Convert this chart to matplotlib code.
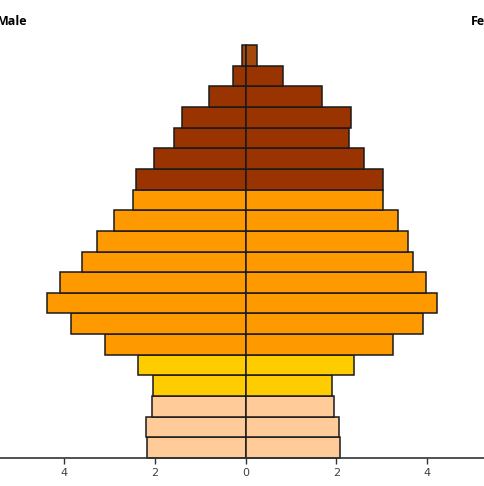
import matplotlib
matplotlib.use("Agg")
import matplotlib.pyplot as plt

age_groups = ["0-4", "5-9", "10-14", "15-19", "20-24", "25-29", "30-34", "35-39",
              "40-44", "45-49", "50-54", "55-59", "60-64", "65-69", "70-74", "75-79",
              "80-84", "85-89", "90-94", "95+"]
male = [2.18, 2.20, 2.07, 2.05, 2.38, 3.10, 3.86, 4.39, 4.10, 3.60, 3.27, 2.91,
        2.49, 2.42, 2.02, 1.58, 1.41, 0.82, 0.29, 0.08]
female = [2.08, 2.05, 1.94, 1.91, 2.38, 3.26, 3.92, 4.22, 3.98, 3.69, 3.59, 3.36,
          3.03, 3.03, 2.60, 2.28, 2.33, 1.68, 0.82, 0.24]
colors = (["#FFCC99"] * 3 + ["#FFCC00"] * 2 + ["#FF9900"] * 8 +
          ["#993300"] * 6 + ["#A3490C"])
tick_values = [-4, -2, 0, 2, 4]
tick_labels = ["4", "2", "0", "2", "4"]

fig = plt.figure(figsize=(4.85, 4.86), dpi=100)
ax = fig.add_axes([0, 0.0576, 1, 0.8498])

y = list(range(len(age_groups)))
ax.barh(y, [-m for m in male], height=1.0, color=colors, edgecolor="#1a1a1a",
        linewidth=1.1, clip_on=False)
ax.barh(y, female, height=1.0, color=colors, edgecolor="#1a1a1a",
        linewidth=1.1, clip_on=False)

ax.set_xlim(-5.42, 5.28)
ax.set_ylim(-0.5, 19.5)
for s in ["top", "left", "right"]:
    ax.spines[s].set_visible(False)
ax.spines["bottom"].set_color("#333333")
ax.spines["bottom"].set_linewidth(1.2)
ax.set_yticks([])
ax.set_xticks(tick_values)
ax.set_xticklabels(tick_labels, fontsize=8, color="#404040")
ax.tick_params(axis="x", direction="out", length=4, width=1, color="#333333", pad=3)

fig.text(-0.006, 0.955, "Male", fontsize=9, fontweight="bold", family="Open Sans",
         ha="left", va="center")
fig.text(0.971, 0.955, "Female", fontsize=9, fontweight="bold", family="Open Sans",
         ha="left", va="center")

fig.savefig("out.png", dpi=100)
